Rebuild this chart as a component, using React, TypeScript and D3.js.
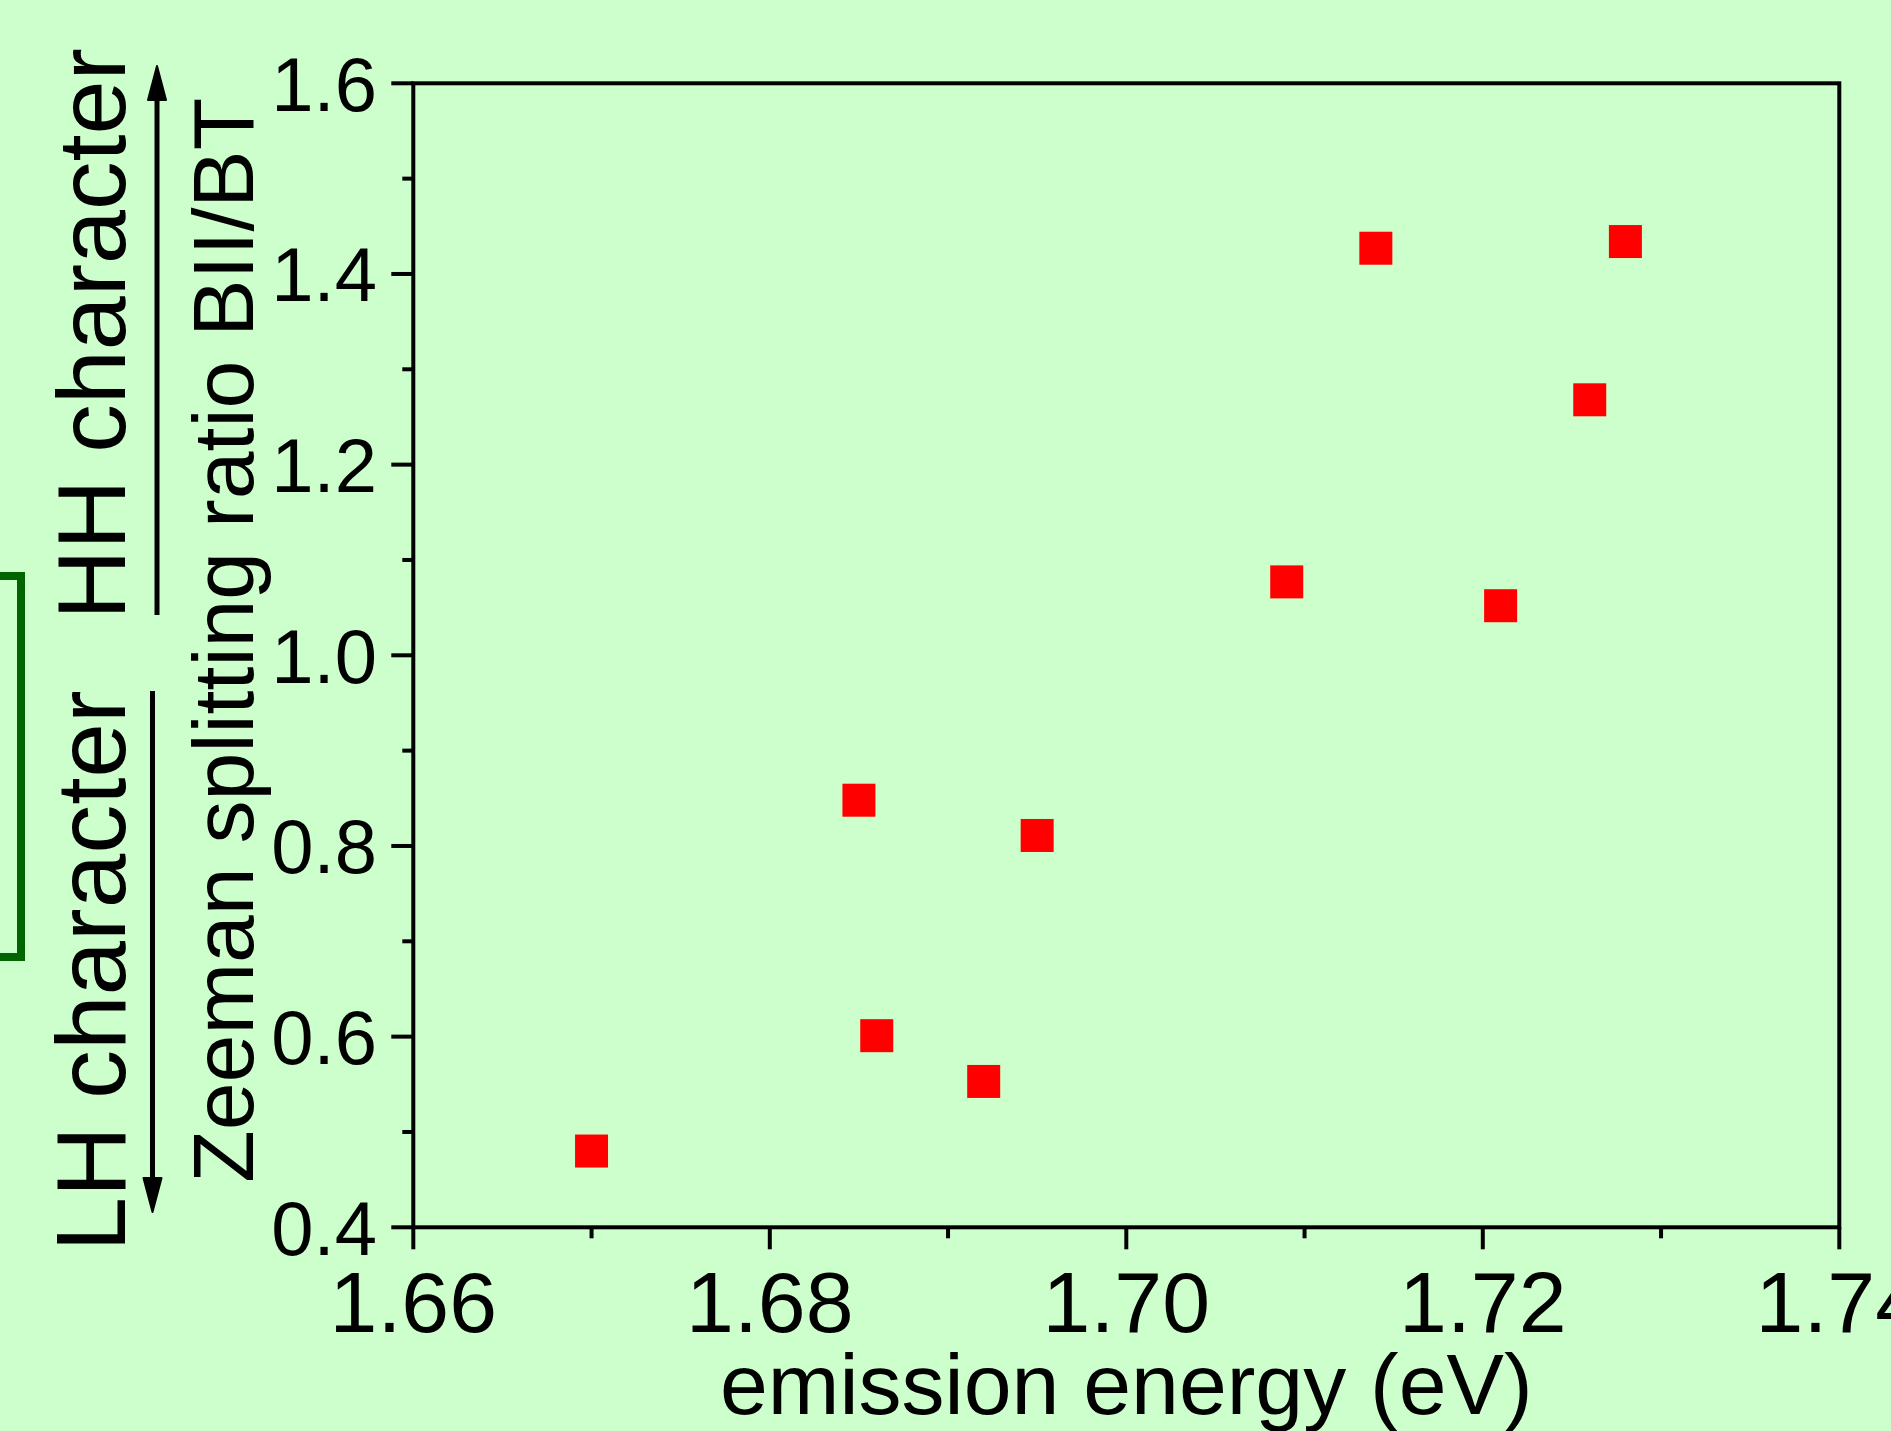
import React from "react";
import * as d3 from "d3";

const energies = [1.670, 1.685, 1.686, 1.692, 1.695, 1.709, 1.714, 1.721, 1.726, 1.728];
const ratios = [0.48, 0.848, 0.601, 0.553, 0.811, 1.077, 1.427, 1.052, 1.268, 1.434];
const xTicks = [1.66, 1.68, 1.70, 1.72, 1.74];
const xMinorTicks = [1.67, 1.69, 1.71, 1.73];
const yTicks = [0.4, 0.6, 0.8, 1.0, 1.2, 1.4, 1.6];
const yMinorTicks = [0.5, 0.7, 0.9, 1.1, 1.3, 1.5];
const xTitle = "emission energy (eV)";
const yTitle = "Zeeman splitting ratio BII/BT";
const upLabel = "HH character";
const downLabel = "LH character";

const W = 1891;
const H = 1431;
const FONT = "'Liberation Sans', Arial, Helvetica, sans-serif";

export default function App() {
  const x = d3.scaleLinear().domain([1.66, 1.74]).range([413.3, 1839.3]);
  const y = d3.scaleLinear().domain([0.4, 1.6]).range([1227.3, 83.3]);
  const [x0, x1] = x.range();
  const [yb, yt] = y.range();
  const ms = 33;
  const lw = 4;
  const points = energies.map((e, i) => ({ e, r: ratios[i] }));

  return (
    <svg width={W} height={H} style={{ position: "absolute", left: 0, top: 0, display: "block" }}>
      <rect x={0} y={0} width={W} height={H} fill="#CCFFCC" />
      {/* green box partially cut off */}
      <rect x={-100} y={576} width={121} height={381} fill="none" stroke="#006400" strokeWidth={8} />
      {/* frame */}
      <rect x={x0} y={yt} width={x1 - x0} height={yb - yt} fill="none" stroke="#000" strokeWidth={lw} />
      {/* y ticks */}
      {yTicks.map((t) => (
        <g key={"yt" + t}>
          <line x1={x0 - 22} x2={x0} y1={y(t)} y2={y(t)} stroke="#000" strokeWidth={lw} />
          <text x={377} y={y(t)} dy="0.36em" textAnchor="end" fontFamily={FONT} fontSize={76} fill="#000">
            {d3.format(".1f")(t)}
          </text>
        </g>
      ))}
      {yMinorTicks.map((t) => (
        <line key={"ym" + t} x1={x0 - 11} x2={x0} y1={y(t)} y2={y(t)} stroke="#000" strokeWidth={lw} />
      ))}
      {/* x ticks */}
      {xTicks.map((t) => (
        <g key={"xt" + t}>
          <line x1={x(t)} x2={x(t)} y1={yb} y2={yb + 22} stroke="#000" strokeWidth={lw} />
          <text x={x(t)} y={1332} textAnchor="middle" fontFamily={FONT} fontSize={86} fill="#000">
            {d3.format(".2f")(t)}
          </text>
        </g>
      ))}
      {xMinorTicks.map((t) => (
        <line key={"xm" + t} x1={x(t)} x2={x(t)} y1={yb} y2={yb + 11} stroke="#000" strokeWidth={lw} />
      ))}
      {/* points */}
      {points.map((p, i) => (
        <rect key={"p" + i} x={x(p.e) - ms / 2} y={y(p.r) - ms / 2} width={ms} height={ms} fill="#FF0000" />
      ))}
      {/* axis titles */}
      <text x={(x0 + x1) / 2} y={1414} textAnchor="middle" fontFamily={FONT} fontSize={86} fill="#000">
        {xTitle}
      </text>
      <text
        transform={`translate(253, ${(yb + yt) / 2 - 15}) rotate(-90)`}
        textAnchor="middle"
        fontFamily={FONT}
        fontSize={86}
        fill="#000"
      >
        {yTitle}
      </text>
      {/* HH / LH labels with arrows */}
      <text transform={`translate(125, 334) rotate(-90)`} textAnchor="middle" fontFamily={FONT} fontSize={97} fill="#000">
        {upLabel}
      </text>
      <text transform={`translate(125, 971) rotate(-90)`} textAnchor="middle" fontFamily={FONT} fontSize={98} fill="#000">
        {downLabel}
      </text>
      <line x1={157} x2={157} y1={615} y2={95} stroke="#000" strokeWidth={5} />
      <path d="M157,66 L166,100 L148,100 Z" fill="#000" stroke="#000" strokeWidth={2} strokeLinejoin="round" />
      <line x1={152.5} x2={152.5} y1={691} y2={1185} stroke="#000" strokeWidth={5} />
      <path d="M152.5,1212 L161.5,1178 L143.5,1178 Z" fill="#000" stroke="#000" strokeWidth={2} strokeLinejoin="round" />
    </svg>
  );
}
